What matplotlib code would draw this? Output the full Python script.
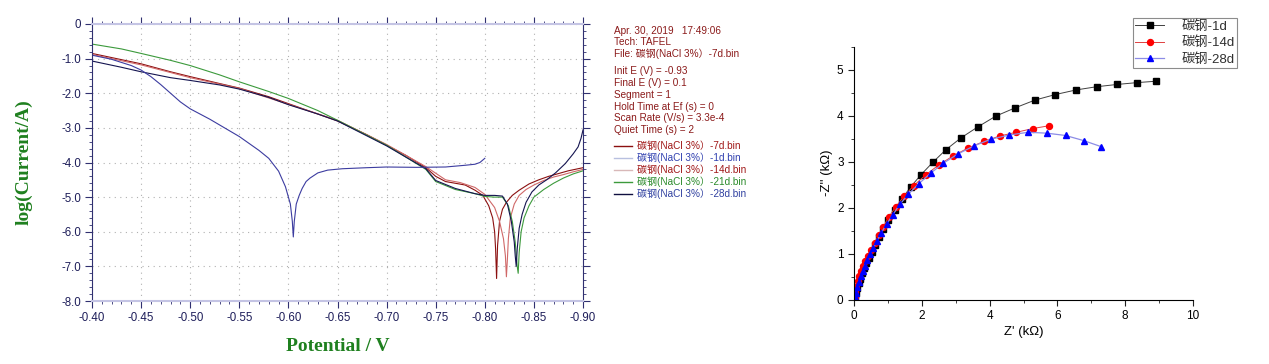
import matplotlib
matplotlib.use('Agg')
import matplotlib.pyplot as plt
from matplotlib.ticker import MultipleLocator, FormatStrFormatter, FuncFormatter
from matplotlib.lines import Line2D

plt.rcParams['font.family'] = ['Liberation Sans', 'Noto Sans CJK SC', 'DejaVu Sans']

# ---- Tafel curves: potential (V) and log(Current/A) ----
v_7d = [-0.400, -0.420, -0.450, -0.480, -0.500, -0.530, -0.550, -0.580, -0.600, -0.630, -0.650,
        -0.680, -0.700, -0.720, -0.740, -0.750, -0.760, -0.770, -0.780, -0.790, -0.798, -0.804,
        -0.808, -0.810, -0.811, -0.812, -0.813, -0.815, -0.818, -0.822, -0.828, -0.835, -0.845,
        -0.855, -0.865, -0.875, -0.885, -0.900]
i_7d = [-0.85, -0.97, -1.15, -1.38, -1.52, -1.72, -1.85, -2.10, -2.30, -2.60, -2.80,
        -3.20, -3.50, -3.80, -4.15, -4.40, -4.55, -4.60, -4.65, -4.80, -4.95, -5.25,
        -5.60, -6.00, -6.50, -7.35, -6.40, -5.70, -5.35, -5.15, -4.95, -4.80, -4.62,
        -4.50, -4.40, -4.32, -4.24, -4.15]

v_1d = [-0.400, -0.420, -0.440, -0.450, -0.460, -0.470, -0.480, -0.490, -0.500, -0.520, -0.550,
        -0.570, -0.580, -0.590, -0.597, -0.602, -0.604, -0.605, -0.606, -0.608, -0.611, -0.614,
        -0.618, -0.622, -0.630, -0.640, -0.655, -0.680, -0.700, -0.730, -0.760, -0.780, -0.790,
        -0.795, -0.800]
i_1d = [-0.90, -1.02, -1.20, -1.33, -1.52, -1.75, -2.00, -2.25, -2.45, -2.75, -3.25,
        -3.65, -3.88, -4.25, -4.70, -5.20, -5.70, -6.15, -5.70, -5.20, -4.95, -4.75,
        -4.55, -4.45, -4.30, -4.22, -4.18, -4.15, -4.13, -4.14, -4.13, -4.08, -4.05,
        -4.00, -3.88]

v_14d = [-0.400, -0.450, -0.500, -0.550, -0.600, -0.650, -0.700, -0.740, -0.760, -0.775, -0.790,
         -0.800, -0.810, -0.815, -0.819, -0.821, -0.822, -0.823, -0.824, -0.826, -0.830, -0.835,
         -0.842, -0.850, -0.860, -0.870, -0.880, -0.890, -0.900]
i_14d = [-0.88, -1.18, -1.55, -1.86, -2.32, -2.78, -3.48, -4.12, -4.50, -4.58, -4.72,
         -4.92, -5.30, -5.70, -6.20, -6.70, -7.30, -6.80, -6.20, -5.60, -5.20, -4.95,
         -4.78, -4.65, -4.52, -4.42, -4.35, -4.27, -4.20]

v_21d = [-0.400, -0.430, -0.450, -0.480, -0.500, -0.530, -0.550, -0.580, -0.600, -0.630, -0.650,
         -0.700, -0.740, -0.750, -0.770, -0.790, -0.800, -0.810, -0.818, -0.824, -0.828, -0.831,
         -0.833, -0.834, -0.835, -0.837, -0.840, -0.845, -0.850, -0.860, -0.870, -0.880, -0.890,
         -0.900]
i_21d = [-0.58, -0.72, -0.85, -1.05, -1.20, -1.47, -1.67, -1.95, -2.15, -2.50, -2.78,
         -3.50, -4.20, -4.55, -4.78, -4.90, -4.98, -5.00, -5.00, -5.25, -5.70, -6.30,
         -7.00, -7.20, -6.60, -6.00, -5.60, -5.25, -5.00, -4.78, -4.60, -4.45, -4.33,
         -4.24]

v_28d = [-0.400, -0.430, -0.450, -0.480, -0.500, -0.530, -0.550, -0.580, -0.600, -0.630, -0.650,
         -0.700, -0.740, -0.750, -0.770, -0.790, -0.800, -0.810, -0.818, -0.823, -0.827, -0.830,
         -0.831, -0.832, -0.833, -0.835, -0.838, -0.842, -0.848, -0.855, -0.863, -0.872, -0.882,
         -0.890, -0.895, -0.898, -0.900]
i_28d = [-1.07, -1.25, -1.38, -1.55, -1.63, -1.76, -1.88, -2.12, -2.33, -2.60, -2.80,
         -3.52, -4.18, -4.52, -4.75, -4.90, -4.95, -4.95, -4.97, -5.20, -5.70, -6.30,
         -6.70, -7.00, -6.50, -5.90, -5.50, -5.15, -4.85, -4.65, -4.50, -4.30, -4.03,
         -3.75, -3.55, -3.30, -3.06]

# ---- Nyquist data: Z' and -Z'' (kOhm) ----
zr_1d = [8.92, 8.36, 7.77, 7.16, 6.55, 5.94, 5.34, 4.75, 4.18, 3.66, 3.16, 2.71, 2.33, 1.98,
         1.68, 1.42, 1.21, 1.01, 0.86, 0.73, 0.62, 0.52, 0.43, 0.36, 0.29, 0.24, 0.18, 0.14,
         0.10, 0.06, 0.03]
zi_1d = [4.75, 4.72, 4.68, 4.63, 4.56, 4.46, 4.34, 4.17, 3.99, 3.76, 3.52, 3.26, 2.99, 2.72,
         2.46, 2.20, 1.96, 1.73, 1.53, 1.36, 1.19, 1.04, 0.91, 0.79, 0.68, 0.57, 0.46, 0.36,
         0.25, 0.14, 0.04]

zr_14d = [5.74, 5.27, 4.79, 4.30, 3.83, 3.37, 2.91, 2.50, 2.11, 1.76, 1.48, 1.23, 1.02, 0.86,
          0.73, 0.61, 0.50, 0.41, 0.33, 0.27, 0.21, 0.16, 0.11, 0.07, 0.04, 0.02]
zi_14d = [3.78, 3.72, 3.64, 3.56, 3.44, 3.30, 3.12, 2.93, 2.71, 2.48, 2.25, 2.02, 1.79, 1.58,
          1.41, 1.24, 1.09, 0.96, 0.85, 0.73, 0.63, 0.52, 0.41, 0.28, 0.16, 0.05]

zr_28d = [7.28, 6.77, 6.24, 5.69, 5.14, 4.58, 4.04, 3.53, 3.07, 2.64, 2.26, 1.91, 1.60, 1.35,
          1.14, 0.96, 0.81, 0.68, 0.57, 0.47, 0.39, 0.31, 0.26, 0.20, 0.15, 0.10, 0.06, 0.03]
zi_28d = [3.33, 3.46, 3.57, 3.62, 3.64, 3.58, 3.49, 3.34, 3.17, 2.97, 2.75, 2.52, 2.29, 2.07,
          1.84, 1.64, 1.46, 1.28, 1.12, 0.99, 0.86, 0.74, 0.63, 0.51, 0.39, 0.27, 0.15, 0.05]

info_lines = ['Apr. 30, 2019   17:49:06', 'Tech: TAFEL', 'File: 碳钢(NaCl 3%）-7d.bin',
              'Init E (V) = -0.93', 'Final E (V) = 0.1', 'Segment = 1',
              'Hold Time at Ef (s) = 0', 'Scan Rate (V/s) = 3.3e-4', 'Quiet Time (s) = 2']
info_y = [31, 42, 54, 71.5, 83, 95, 107, 118.5, 130]
file_labels = ['碳钢(NaCl 3%）-7d.bin', '碳钢(NaCl 3%）-1d.bin', '碳钢(NaCl 3%）-14d.bin',
               '碳钢(NaCl 3%）-21d.bin', '碳钢(NaCl 3%）-28d.bin']
file_y = [146, 158, 170, 182, 194]
file_line_colors = ['#8b1010', '#b8c0e0', '#d8b8b8', '#3c9a3c', '#101040']
file_text_colors = ['#a01818', '#3040b0', '#a01818', '#2a8a2a', '#3040a0']

nyq_labels = ['碳钢-1d', '碳钢-14d', '碳钢-28d']

W, H = 1269, 364
fig = plt.figure(figsize=(W / 100, H / 100), dpi=100)
fig.patch.set_facecolor('white')

# ================= Tafel plot =================
ax = fig.add_axes([92 / W, 1 - 301 / H, (583 - 92) / W, (301 - 24) / H])
ax.plot(v_7d, i_7d, color='#8b1010', lw=0.8)
ax.plot(v_14d, i_14d, color='#d06868', lw=0.8)
ax.plot(v_21d, i_21d, color='#3c9a3c', lw=0.8)
ax.plot(v_28d, i_28d, color='#141450', lw=0.8)
ax.plot(v_1d, i_1d, color='#3c3ca0', lw=0.8)

ax.set_xlim(-0.40, -0.90)
ax.set_ylim(-8.0, 0.0)
ax.xaxis.set_major_locator(MultipleLocator(0.05))
ax.xaxis.set_minor_locator(MultipleLocator(0.01))
ax.xaxis.set_major_formatter(FormatStrFormatter('%.2f'))
ax.yaxis.set_major_locator(MultipleLocator(1.0))
ax.yaxis.set_minor_locator(MultipleLocator(0.2))
ax.yaxis.set_major_formatter(FuncFormatter(lambda v, p: '0' if abs(v) < 1e-9 else '%.1f' % v))
ax.grid(True, which='major', color='#b0b0b0', linestyle=(0, (1, 4)), lw=0.8)
ax.tick_params(which='both', direction='out', top=True, right=True, color='#303070',
               labelsize=8.3, labelcolor='#1e1e5a', pad=3)
ax.tick_params(which='major', length=5, width=0.8)
ax.tick_params(which='minor', length=2.5, width=0.6)
for s in ['left', 'right']:
    ax.spines[s].set_color('#303070')
for s in ['top', 'bottom']:
    ax.spines[s].set_color('#c4c4e4')
    ax.spines[s].set_linewidth(1.5)

ax.set_ylabel('log(Current/A)', family='Liberation Serif', weight='bold', size=14, color='#1f801f')
ax.set_xlabel('Potential / V', family='Liberation Serif', weight='bold', size=14, color='#1f801f')
ax.yaxis.set_label_coords(-0.12, 0.5)
ax.xaxis.set_label_coords(0.5, -0.135)

# info block
for txt, yy in zip(info_lines, info_y):
    fig.text(614 / W, 1 - yy / H, txt, fontsize=7.2, color='#8b1a1a', va='center', ha='left')
for lab, yy, lc, tc in zip(file_labels, file_y, file_line_colors, file_text_colors):
    fig.add_artist(Line2D([614 / W, 632 / W], [1 - yy / H, 1 - yy / H], color=lc, lw=1.0,
                          transform=fig.transFigure))
    fig.text(637 / W, 1 - yy / H, lab, fontsize=7.2, color=tc, va='center', ha='left')

# ================= Nyquist plot =================
bx = fig.add_axes([854 / W, 1 - 299.7 / H, (1193 - 854) / W, (299.7 - 46.7) / H])
bx.plot(zr_1d, zi_1d, color='#404040', lw=0.7, marker='s', ms=4, mfc='black', mec='black',
        label=nyq_labels[0])
bx.plot(zr_14d, zi_14d, color='#e04040', lw=0.7, marker='o', ms=4.3, mfc='#ff0000', mec='#ff0000',
        label=nyq_labels[1])
bx.plot(zr_28d, zi_28d, color='#8c8ce6', lw=0.9, marker='^', ms=4.5, mfc='#0000ff', mec='#0000ff',
        label=nyq_labels[2])
bx.set_xlim(0, 10)
bx.set_ylim(0, 5.5)
bx.xaxis.set_major_locator(MultipleLocator(2))
bx.xaxis.set_minor_locator(MultipleLocator(1))
bx.yaxis.set_major_locator(MultipleLocator(1))
bx.yaxis.set_minor_locator(MultipleLocator(0.5))
bx.spines['top'].set_visible(False)
bx.spines['right'].set_visible(False)
bx.tick_params(which='both', direction='out', labelsize=8.5, color='#202020')
bx.tick_params(which='major', length=4, width=0.8)
bx.tick_params(which='minor', length=2, width=0.6)
bx.set_xlabel("Z' (kΩ)", fontsize=9.5)
bx.set_ylabel("-Z'' (kΩ)", fontsize=9.5)
bx.xaxis.set_label_coords(0.5, -0.104)
bx.yaxis.set_label_coords(-0.062, 0.5)

leg = bx.legend(loc='upper right', bbox_to_anchor=(1237 / W, 1 - 18 / H),
                bbox_transform=fig.transFigure, fontsize=9.5, frameon=True, fancybox=False,
                edgecolor='#707070', handlelength=2.2, handletextpad=1.3, labelspacing=0.28,
                borderpad=0.17, borderaxespad=0)
leg.get_frame().set_linewidth(0.8)
for t in leg.get_texts():
    t.set_color('#303030')

fig.savefig('out.png', dpi=100, facecolor='white')
